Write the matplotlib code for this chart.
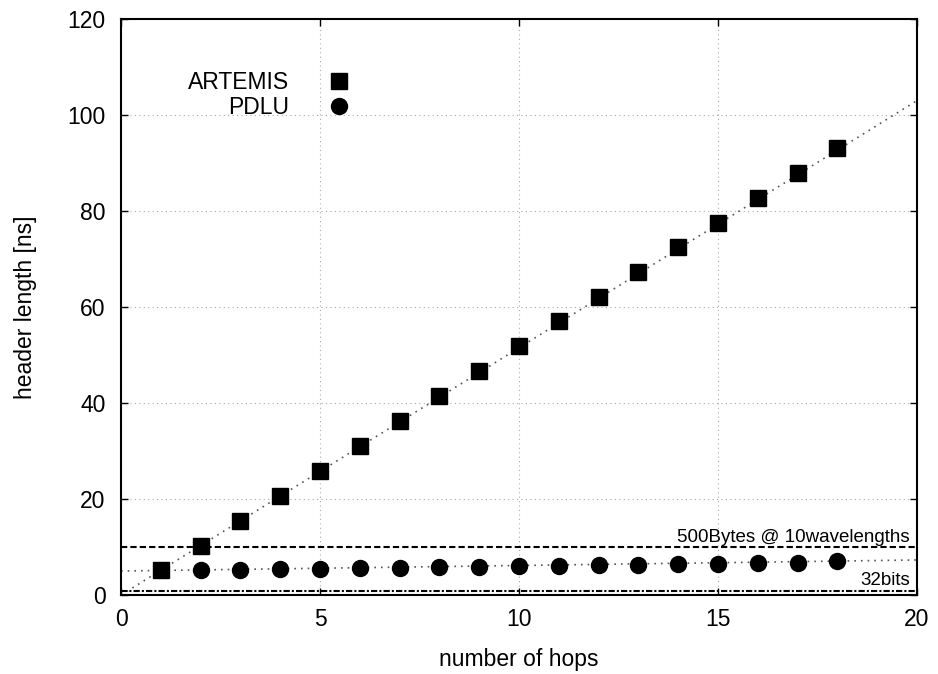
import matplotlib
matplotlib.use("Agg")
import matplotlib.pyplot as plt

plt.rcParams['font.family'] = ['Liberation Sans', 'DejaVu Sans']

# values
hops = list(range(1, 19))
artemis = [5.2, 10.3, 15.5, 20.7, 25.9, 31.1, 36.3, 41.5, 46.7, 51.8,
           57.0, 62.1, 67.3, 72.4, 77.6, 82.8, 88.0, 93.2]
pdlu_hops = list(range(2, 19))
pdlu = [5.2, 5.3, 5.4, 5.5, 5.6, 5.7, 5.8, 5.9, 6.0, 6.1,
        6.2, 6.3, 6.4, 6.5, 6.6, 6.7, 7.0]

# fitted trend lines (endpoints)
artemis_fit_x = [0, 20]
artemis_fit_y = [0, 103]
pdlu_fit_x = [0, 20]
pdlu_fit_y = [5.0, 7.3]

# reference levels
bytes_level = 10
bits_level = 0.8

fig = plt.figure(figsize=(9.38, 6.74), dpi=100)
ax = fig.add_axes([0.129, 0.1172, 0.8486, 0.8546])

ax.plot(artemis_fit_x, artemis_fit_y, color='#555555', linestyle=(0, (1, 3)), linewidth=1.2)
ax.plot(pdlu_fit_x, pdlu_fit_y, color='#555555', linestyle=(0, (1, 3)), linewidth=1.2)

ax.axhline(bytes_level, color='black', linestyle=(0, (3, 1.5)), linewidth=1.5)
ax.axhline(bits_level, color='black', linestyle=(0, (3, 1, 1, 1)), linewidth=1.5)
ax.text(19.82, bytes_level + 1.0, '500Bytes @ 10wavelengths', ha='right', va='baseline', fontsize=13.5)
ax.text(19.82, bits_level + 1.2, '32bits', ha='right', va='baseline', fontsize=13.5)

ax.plot(hops, artemis, linestyle='none', marker='s', markersize=12,
        color='black', label='ARTEMIS')
ax.plot(pdlu_hops, pdlu, linestyle='none', marker='o', markersize=11.5,
        color='black', label='PDLU')

ax.set_xlim(0, 20)
ax.set_ylim(0, 120)
ax.set_xticks([0, 5, 10, 15, 20])
ax.set_yticks([0, 20, 40, 60, 80, 100, 120])
ax.grid(True, color='#aaaaaa', linestyle=(0, (1, 3)), linewidth=0.8)
ax.tick_params(direction='in', length=5, width=1, labelsize=16.5, top=True, right=True)
ax.tick_params(axis='x', pad=9)
ax.tick_params(axis='y', pad=11)
for s in ax.spines.values():
    s.set_linewidth(1.5)

ax.set_xlabel('number of hops', fontsize=16.5)
ax.set_ylabel('header length [ns]', fontsize=16.5)
ax.xaxis.set_label_coords(0.5, -0.092)
ax.yaxis.set_label_coords(-0.1055, 0.5)

leg = ax.legend(loc='center', bbox_to_anchor=(0.186, 0.868), frameon=False,
                markerfirst=False, fontsize=16.5, handlelength=1.0, handletextpad=1.7,
                labelspacing=0.05, borderpad=0)
for t in leg.get_texts():
    t.set_ha('right')

fig.savefig('out.png', dpi=100)
